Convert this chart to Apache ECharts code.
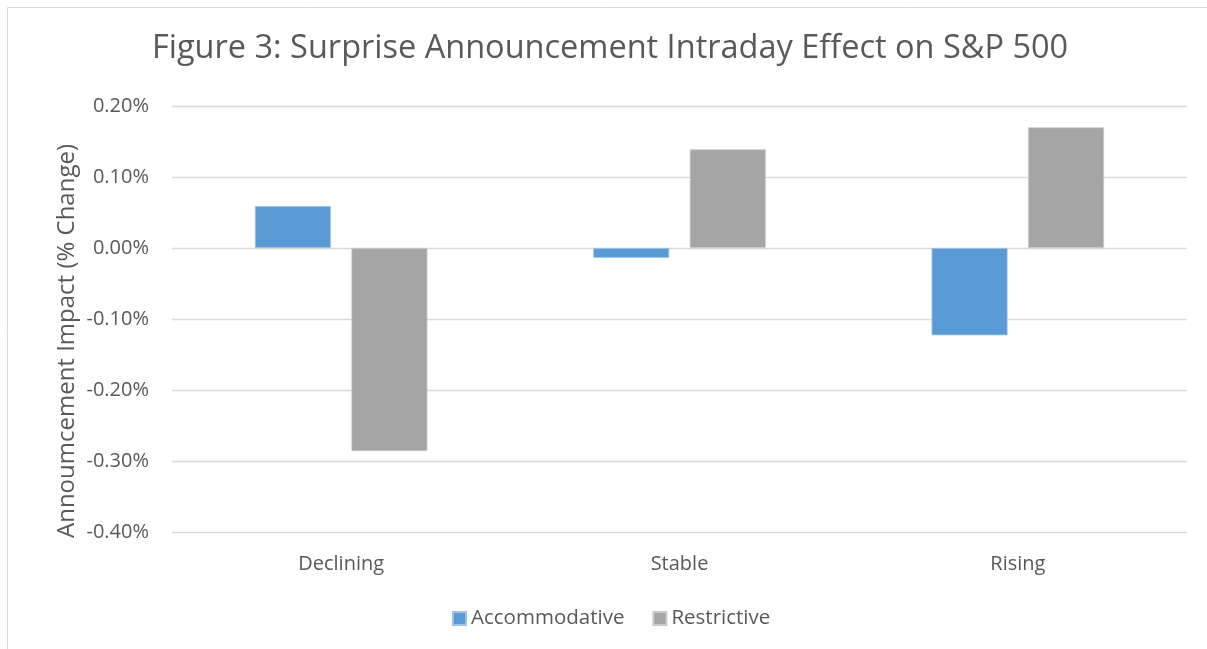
<!DOCTYPE html>
<html>
<head>
<meta charset="utf-8">
<script src="https://cdn.jsdelivr.net/npm/echarts@6/dist/echarts.min.js"></script>
<style>
  html, body { margin: 0; padding: 0; background: #fff; }
  #main { width: 1207px; height: 649px; }
</style>
</head>
<body>
<div id="main"></div>
<script>
// data (values in %)
var categories = ['Declining', 'Stable', 'Rising']
var accommodative = [0.059, -0.014, -0.123]
var restrictive = [-0.286, 0.139, 0.170]
var yTicks = { min: -0.4, max: 0.2, step: 0.1 }

var FONT = 'Open Sans'
var chart = echarts.init(document.getElementById('main'))

var option = {
  backgroundColor: '#fff',
  animation: false,
  title: {
    text: 'Figure 3: Surprise Announcement Intraday Effect on S&P 500',
    left: 152,
    top: 32,
    padding: 0,
    textStyle: { fontFamily: FONT, fontSize: 32.5, fontWeight: 'normal', color: '#595959' }
  },
  grid: { left: 172, right: 20, top: 106, bottom: 117 },
  legend: {
    bottom: 15,
    left: 447,
    itemWidth: 13,
    itemHeight: 13,
    itemGap: 28,
    icon: 'rect',
    textStyle: { fontFamily: FONT, fontSize: 20.5, color: '#595959' },
    data: ['Accommodative', 'Restrictive']
  },
  xAxis: {
    type: 'category',
    data: categories,
    axisLine: { show: false },
    axisTick: { show: false },
    axisLabel: { fontFamily: FONT, fontSize: 20, color: '#595959', margin: 22 }
  },
  yAxis: {
    type: 'value',
    min: yTicks.min,
    max: yTicks.max,
    interval: yTicks.step,
    axisLine: { show: false },
    axisTick: { show: false },
    splitLine: { lineStyle: { color: '#d9d9d9', width: 1.3 } },
    axisLabel: {
      fontFamily: FONT, fontSize: 20, color: '#595959', margin: 23,
      formatter: function (v) { return v.toFixed(2) + '%' }
    }
  },
  graphic: [
    {
      type: 'rect',
      shape: { x: 7.5, y: 7.5, width: 1220, height: 660 },
      style: { fill: 'none', stroke: '#d9d9d9', lineWidth: 1 }
    },
    {
      type: 'text',
      x: 67, y: 341,
      rotation: Math.PI / 2,
      style: {
        text: 'Annoumcement Impact (% Change)',
        fontFamily: FONT, fontSize: 24, fill: '#595959',
        textAlign: 'center', textVerticalAlign: 'middle'
      }
    }
  ],
  series: [
    {
      name: 'Accommodative',
      type: 'bar',
      data: accommodative,
      barWidth: 76,
      barGap: '27%',
      itemStyle: { color: '#5b9bd5', borderColor: '#9dc3e6', borderWidth: 0.8 }
    },
    {
      name: 'Restrictive',
      type: 'bar',
      data: restrictive,
      barWidth: 76,
      barGap: '27%',
      itemStyle: { color: '#a5a5a5', borderColor: '#c9c9c9', borderWidth: 0.8 }
    }
  ]
}

chart.setOption(option)
</script>
</body>
</html>
